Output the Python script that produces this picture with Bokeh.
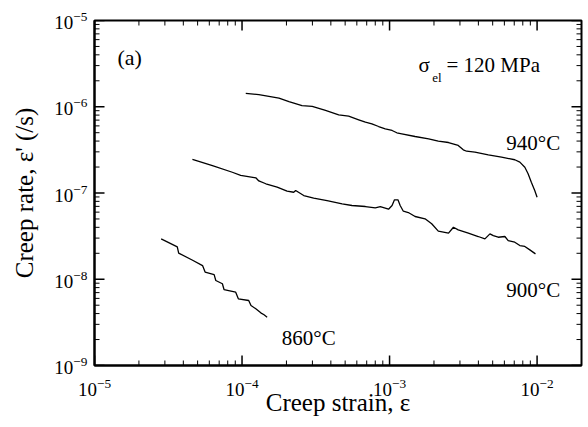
from bokeh.plotting import figure
from bokeh.models import Label
from bokeh.embed import file_html
from bokeh.resources import INLINE

# 940 C curve
strain_940 = [1.06e-4, 1.30e-4, 1.78e-4, 2.08e-4, 2.55e-4, 2.99e-4, 3.68e-4, 4.52e-4,
              5.28e-4, 6.18e-4, 6.86e-4, 7.59e-4, 8.43e-4, 9.35e-4, 1.04e-3, 1.12e-3,
              1.21e-3, 1.49e-3, 1.84e-3, 2.14e-3, 2.51e-3, 2.92e-3, 3.16e-3, 3.33e-3,
              3.79e-3, 4.67e-3, 5.74e-3, 7.06e-3, 7.64e-3, 8.26e-3, 8.69e-3, 9.14e-3,
              9.64e-3, 1.00e-2]
rate_940 = [1.43e-6, 1.38e-6, 1.26e-6, 1.15e-6, 1.03e-6, 1.01e-6, 9.05e-7, 8.07e-7,
            7.77e-7, 7.06e-7, 6.62e-7, 6.34e-7, 5.90e-7, 5.55e-7, 5.31e-7, 4.99e-7,
            4.86e-7, 4.52e-7, 4.25e-7, 3.99e-7, 3.85e-7, 3.56e-7, 3.17e-7, 3.05e-7,
            2.97e-7, 2.77e-7, 2.60e-7, 2.43e-7, 2.28e-7, 1.99e-7, 1.67e-7, 1.33e-7,
            1.07e-7, 8.94e-8]

# 900 C curve
strain_900 = [4.61e-5, 6.30e-5, 8.59e-5, 9.79e-5, 1.24e-4, 1.30e-4, 1.45e-4, 1.73e-4,
              2.02e-4, 2.24e-4, 2.31e-4, 2.62e-4, 3.06e-4, 3.77e-4, 4.77e-4, 5.56e-4,
              6.86e-4, 8.00e-4, 8.65e-4, 9.84e-4, 1.04e-3, 1.08e-3, 1.14e-3, 1.18e-3,
              1.24e-3, 1.34e-3, 1.49e-3, 1.74e-3, 1.93e-3, 2.14e-3, 2.51e-3, 2.71e-3,
              2.92e-3, 3.42e-3, 3.99e-3, 4.43e-3, 4.79e-3, 5.05e-3, 5.45e-3, 6.05e-3,
              6.37e-3, 7.06e-3, 7.64e-3, 8.26e-3, 8.93e-3, 9.75e-3]
rate_900 = [2.45e-7, 2.08e-7, 1.74e-7, 1.60e-7, 1.50e-7, 1.38e-7, 1.28e-7, 1.17e-7,
            1.05e-7, 1.02e-7, 1.07e-7, 9.35e-8, 8.70e-8, 8.18e-8, 7.50e-8, 7.16e-8,
            6.97e-8, 6.74e-8, 6.97e-8, 6.49e-8, 7.16e-8, 8.34e-8, 8.34e-8, 7.16e-8,
            6.15e-8, 5.94e-8, 5.34e-8, 5.02e-8, 4.40e-8, 3.61e-8, 3.42e-8, 4.01e-8,
            3.74e-8, 3.42e-8, 3.13e-8, 2.94e-8, 3.36e-8, 3.21e-8, 3.07e-8, 3.13e-8,
            2.81e-8, 2.69e-8, 2.46e-8, 2.40e-8, 2.19e-8, 1.97e-8]

# 860 C curve
strain_860 = [2.83e-5, 3.64e-5, 3.72e-5, 4.59e-5, 5.40e-5, 5.62e-5, 6.47e-5, 6.64e-5,
              7.36e-5, 7.55e-5, 9.06e-5, 9.44e-5, 1.11e-4, 1.15e-4, 1.24e-4, 1.34e-4,
              1.41e-4, 1.48e-4]
rate_860 = [2.94e-8, 2.37e-8, 2.01e-8, 1.67e-8, 1.44e-8, 1.21e-8, 1.13e-8, 9.68e-9,
            8.86e-9, 7.60e-9, 7.08e-9, 5.93e-9, 5.67e-9, 4.96e-9, 4.54e-9, 4.08e-9,
            3.87e-9, 3.63e-9]

x_range = (1e-5, 2e-2)
y_range = (1e-9, 1e-5)
x_decades = [-5, -4, -3, -2]
y_decades = [-9, -8, -7, -6, -5]

FONT = "Liberation Serif"

p = figure(x_axis_type="log", y_axis_type="log", x_range=x_range, y_range=y_range,
           frame_width=487, frame_height=345,
           min_border_left=94, min_border_right=3, min_border_top=20, min_border_bottom=58,
           output_backend="svg", toolbar_location=None)
p.grid.visible = False
p.outline_line_color = "black"
p.outline_line_width = 2
p.background_fill_color = "white"
p.border_fill_color = "white"

for sx, sy in [(strain_940, rate_940), (strain_900, rate_900), (strain_860, rate_860)]:
    p.line(sx, sy, line_color="black", line_width=1.3)

# inward tick marks on all four sides (markers centred on the frame edge; the
# outer half is clipped away by the frame)
x_major = [10.0 ** d for d in x_decades if x_range[0] <= 10.0 ** d <= x_range[1]]
x_minor = [m * 10.0 ** d for d in x_decades for m in range(2, 10)
           if x_range[0] < m * 10.0 ** d < x_range[1]]
y_major = [10.0 ** d for d in y_decades if y_range[0] <= 10.0 ** d <= y_range[1]]
y_minor = [m * 10.0 ** d for d in y_decades for m in range(2, 10)
           if y_range[0] < m * 10.0 ** d < y_range[1]]

for ticks, size, lw in [(x_major, 20, 1.5), (x_minor, 10, 1.0)]:
    for yedge in y_range:
        p.scatter(ticks, [yedge] * len(ticks), marker="dash", size=size, angle=90,
                  angle_units="deg", line_color="black", line_width=lw)
for ticks, size, lw in [(y_major, 20, 1.5), (y_minor, 10, 1.0)]:
    for xedge in x_range:
        p.scatter([xedge] * len(ticks), ticks, marker="dash", size=size,
                  line_color="black", line_width=lw)

bottom = p.below[0]
left = p.left[0]
for ax in [bottom, left]:
    ax.major_tick_in = 0
    ax.major_tick_out = 0
    ax.minor_tick_in = 0
    ax.minor_tick_out = 0
    ax.axis_line_width = 2
    ax.axis_line_color = "black"
    ax.major_label_text_font = FONT
    ax.major_label_text_font_size = "19px"
    ax.major_label_text_color = "black"
    ax.axis_label_text_font = FONT
    ax.axis_label_text_font_size = "25px"
    ax.axis_label_text_font_style = "normal"
    ax.axis_label_text_color = "black"

bottom.axis_label = "Creep strain, ε"
left.axis_label = "Creep rate, ε' (/s)"
bottom.major_label_standoff = 13
bottom.axis_label_standoff = -10
left.major_label_standoff = 7
left.axis_label_standoff = 13

annotations = [
    ("(a)", 1.43e-5, 3.72e-6, "22px"),
    ("σ", 1.57e-3, 3.01e-6, "21px"),
    ("el", 1.95e-3, 2.18e-6, "13px"),
    ("= 120 MPa", 2.43e-3, 3.01e-6, "21px"),
    ("940°C", 6.18e-3, 3.85e-7, "21px"),
    ("900°C", 6.18e-3, 7.60e-9, "21px"),
    ("860°C", 1.86e-4, 2.11e-9, "21px"),
]
for txt, x, y, fs in annotations:
    p.add_layout(Label(x=x, y=y, text=txt, text_font=FONT, text_font_size=fs,
                       text_color="black", text_baseline="alphabetic", text_align="left"))

open("out.html", "w").write(file_html(p, INLINE))
